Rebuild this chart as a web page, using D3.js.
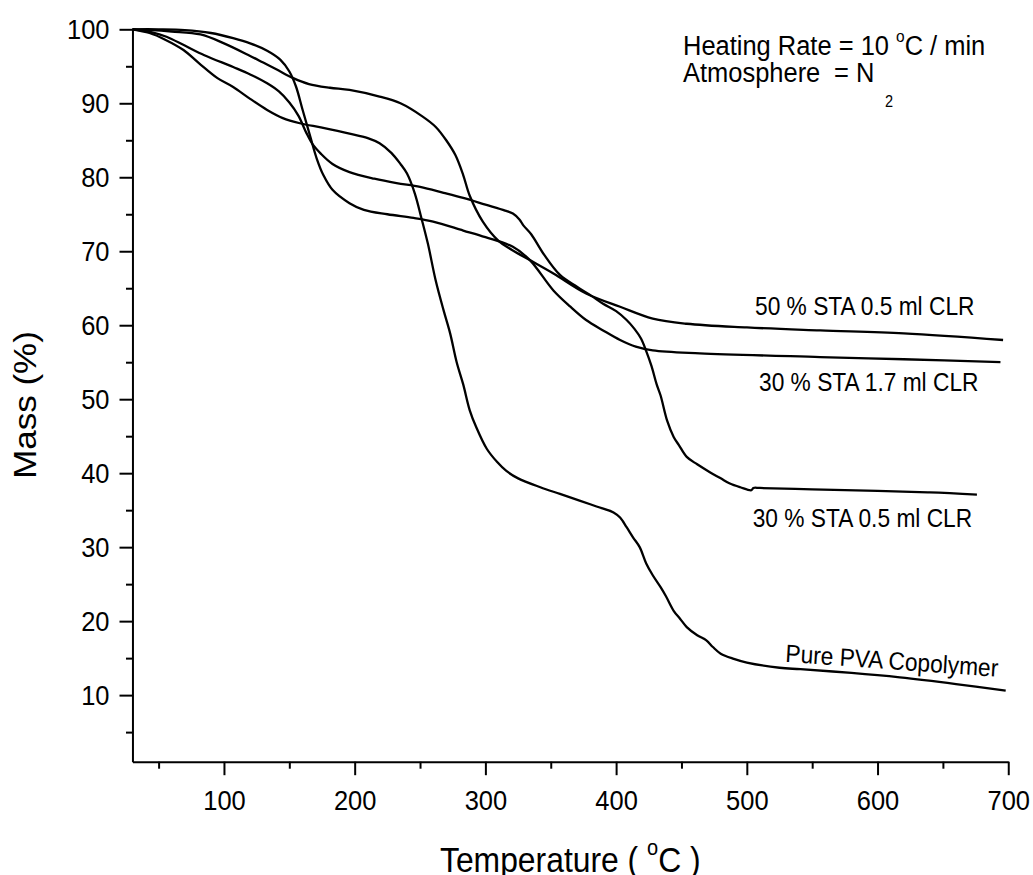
<!DOCTYPE html>
<html><head><meta charset="utf-8">
<script src="https://cdn.jsdelivr.net/npm/d3@7"></script>
<style>
html,body{margin:0;padding:0;background:#fff;}
svg{display:block;font-family:"Liberation Sans",Arial,sans-serif;}
path,line{vector-effect:non-scaling-stroke;}
text{white-space:pre;}
</style></head><body><svg id="c" width="1033" height="875"></svg>
<script>
// ---- data (Temperature °C, Mass %) ----
const xTicks = [100,200,300,400,500,600,700];
const xMinor = [50,150,250,350,450,550,650];
const yTicks = [10,20,30,40,50,60,70,80,90,100];
const yMinor = [5,15,25,35,45,55,65,75,85,95];

const seriesNames = ["50 % STA 0.5 ml CLR","30 % STA 1.7 ml CLR","30 % STA 0.5 ml CLR","Pure PVA Copolymer"];

const sta50_05 = [[30,100],[45,99.9],[60,99.7],[82,99.3],[100,98.1],[120,96.4],[130,95.5],[140,94.6],[153,93.4],[165,92.6],[181,92.1],[196,91.8],[219,90.9],[235,90],[252,88.2],[262,86.8],[270,85],[277,83],[283,80.3],[288,77.5],[298,74],[310,71.4],[320,70.2],[334,68.8],[352,67],[377,64.3],[403,62.5],[428,60.9],[454,60.2],[500,59.7],[556,59.3],[620,58.9],[696,58.0]];

const sta30_17 = [[30,100],[50,100],[70,99.9],[90,99.5],[107,98.8],[120,98.1],[133,97.1],[143,95.9],[150,94.3],[155,92.3],[160,89.2],[166,85.5],[171,82.5],[176,80.3],[183,78.3],[196,76.5],[207,75.6],[225,75],[245,74.5],[260,74],[283,72.8],[300,71.9],[321,70.6],[334,68.8],[352,64.7],[365,62.5],[377,60.7],[390,59.3],[403,58],[415,57.1],[428,56.6],[464,56.2],[556,55.7],[620,55.4],[694,55.0]];

const sta30_05 = [[30,100],[45,99.6],[56,99],[70,97.8],[85,96.5],[107,94.9],[120,93.9],[133,92.7],[142,91.6],[150,90.1],[157,88.3],[163,86],[168,84.4],[174,83.2],[183,81.8],[196,80.7],[215,79.8],[232,79.2],[250,78.7],[268,77.9],[283,77.2],[300,76.3],[315,75.5],[321,75.1],[326,74.3],[329,73.5],[335,72.3],[345,69.5],[357,66.8],[370,65.2],[380,64.1],[390,62.9],[400,61.9],[408,60.7],[414,59.5],[419,58.2],[423,56.5],[427,54.5],[431,52],[434,50.5],[439,47.1],[444,44.9],[448,43.8],[454,42.2],[462,41.2],[472,40.1],[480,39.3],[487,38.6],[495,38.1],[503.5,37.7],[505,38.0],[510,38.0],[550,37.8],[600,37.6],[640,37.4],[676,37.1]];

const purePVA = [[30,100],[43,99.5],[55,98.6],[69,97.2],[81,95.4],[95,93.4],[107,92.2],[120,90.6],[133,89.1],[145,88],[158,87.3],[175,86.7],[196,85.9],[210,85.3],[219,84.6],[228,83.3],[235,81.8],[240,80.5],[246,77.8],[251,74.5],[256,71],[262,66],[268,62],[273,58.9],[278,55],[283,52],[288,48.5],[293,46.2],[301,43.3],[309,41.5],[316,40.3],[325,39.3],[342,38.1],[357,37.2],[372,36.3],[385,35.5],[398,34.7],[403,34.0],[408,32.7],[413,31.3],[418,30],[423,27.8],[428,26.2],[434,24.6],[438,23.4],[444,21.4],[449,20.3],[454,19.2],[462,18.1],[469,17.4],[474,16.5],[480,15.6],[490,14.9],[500,14.4],[525,13.7],[541,13.5],[580,13],[617,12.4],[660,11.5],[698,10.6]];

const allSeries = [sta50_05, sta30_17, sta30_05, purePVA];

// ---- layout ----
const sx = 0.91;               // horizontal compression of the original figure
const vx = px => px / sx;
const svg = d3.select('#c');
const g = svg.append('g').attr('transform', `scale(${sx},1)`);

const x = d3.scaleLinear().domain([30,700]).range([vx(132.5), vx(1008.3)]);
const y = d3.scaleLinear().domain([1,100]).range([761.7, 29.3]);

function styleAxis(s, fs){
  s.attr('font-size', fs).attr('font-family', null);
  s.selectAll('path,line').attr('stroke','#000').attr('stroke-width',2);
  s.selectAll('text').attr('fill','#000');
}

// Y axis
g.append('g').attr('transform',`translate(${x(30)},0)`)
  .call(d3.axisLeft(y).tickValues(yMinor).tickSize(vx(6.5)).tickFormat('').tickSizeOuter(0))
  .call(s=>{s.select('.domain').remove(); styleAxis(s,28);});
g.append('g').attr('transform',`translate(${x(30)},0)`)
  .call(d3.axisLeft(y).tickValues(yTicks).tickSize(vx(13)).tickPadding(vx(10)).tickSizeOuter(0))
  .call(s=>styleAxis(s,28));

// X axis
g.append('g').attr('transform',`translate(0,${y(1)})`)
  .call(d3.axisBottom(x).tickValues(xMinor).tickSize(7).tickFormat('').tickSizeOuter(0))
  .call(s=>{s.select('.domain').remove(); styleAxis(s,28);});
g.append('g').attr('transform',`translate(0,${y(1)})`)
  .call(d3.axisBottom(x).tickValues(xTicks).tickSize(13.5).tickPadding(14.5).tickSizeOuter(0))
  .call(s=>styleAxis(s,28));

// curves
const line = d3.line().x(d=>x(d[0])).y(d=>y(d[1])).curve(d3.curveCatmullRom.alpha(0.5));
g.append('g').selectAll('path').data(allSeries).join('path')
  .attr('d', line).attr('fill','none').attr('stroke','#000').attr('stroke-width',2.3)
  .attr('stroke-linejoin','round');

// axis titles
g.append('text').attr('transform',`translate(${vx(36)},405) rotate(-90)`)
  .attr('text-anchor','middle').attr('font-size',35).text('Mass (%)');
const tt = g.append('text').attr('x',vx(440)).attr('y',872).attr('font-size',35);
tt.append('tspan').text('Temperature ( ');
tt.append('tspan').attr('font-size',22).attr('dy',-17).text('o');
tt.append('tspan').attr('font-size',35).attr('dy',17).text('C )');

// annotations
const h1 = g.append('text').attr('x',vx(683)).attr('y',55).attr('font-size',28);
h1.append('tspan').text('Heating Rate = 10 ');
h1.append('tspan').attr('font-size',17).attr('dy',-13).text('o');
h1.append('tspan').attr('font-size',28).attr('dy',13).text('C / min');
const h2 = g.append('text').attr('x',vx(683)).attr('y',81.7).attr('font-size',28);
h2.append('tspan').text('Atmosphere');
h2.append('tspan').attr('x',vx(834)).text('= N');
h2.append('tspan').attr('x',vx(885)).attr('dy',25).attr('font-size',16).text('2');

// series labels
const labelPos = [[755,315,0],[759,391,0],[752.7,527,0],[785,661.7,3.7]];
seriesNames.forEach((n,i)=>{
  const p = labelPos[i];
  g.append('text').attr('transform',`translate(${vx(p[0])},${p[1]}) rotate(${p[2]})`)
    .attr('font-size',25).text(n);
});
</script></body></html>
